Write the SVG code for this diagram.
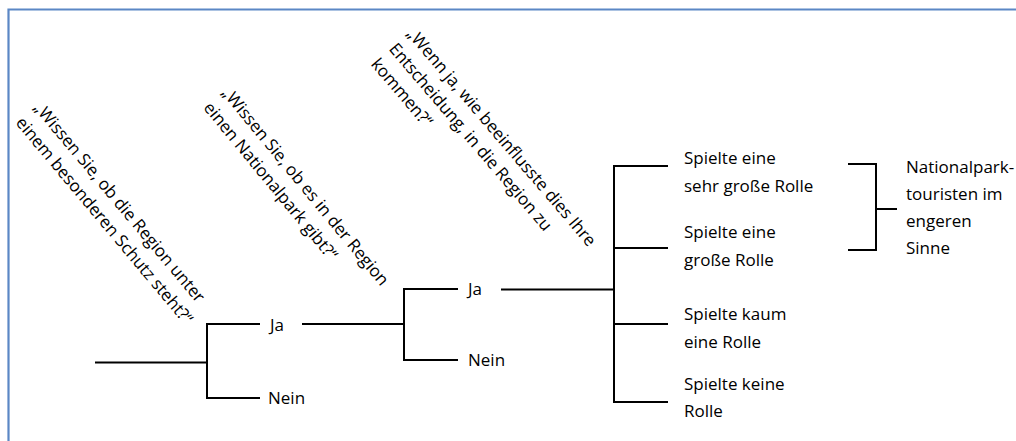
<svg xmlns="http://www.w3.org/2000/svg" width="1016" height="441" viewBox="0 0 1016 441">
<style>
.t{font-family:"Open Sans","Liberation Sans",sans-serif;font-size:17px;fill:#000}
.c{stroke:#000;stroke-width:2;fill:none}
</style>
<rect width="1016" height="441" fill="#fff"/>
<path d="M8.5 460 V9.5 H1030" fill="none" stroke="#5b87c5" stroke-width="2.2"/>
<g id="q1" class="t" transform="translate(33,108) rotate(50)"><text x="0" y="0">„Wissen Sie, ob die Region unter</text><text x="0" y="23.5">einem besonderen Schutz steht?“</text></g>
<g id="q2" class="t" transform="translate(221,93) rotate(50.5)"><text x="0" y="0">„Wissen Sie, ob es in der Region</text><text x="0" y="23.5">einen Nationalpark gibt?“</text></g>
<g id="q3" class="t" transform="translate(406,34) rotate(49.5)"><text x="0" y="0">„Wenn ja, wie beeinflusste dies Ihre</text><text x="0" y="23.5">Entscheidung, in die Region zu</text><text x="0" y="47">kommen?“</text></g>
<g id="connectors" class="c">
<path d="M95 362.5 H207"/>
<path d="M260 324 H207 V398 H260"/>
<path d="M302 324 H404"/>
<path d="M458 289 H404 V360 H458"/>
<path d="M501 289.5 H614"/>
<path d="M668 166 H614 V402 H668"/>
<path d="M614 248 H668"/>
<path d="M614 324 H668"/>
<path d="M848 164 H876 V250 H848"/>
<path d="M876 209 H897"/>
</g>
<g id="n-ja1" class="t"><text x="270" y="331">Ja</text></g>
<g id="n-nein1" class="t"><text x="268" y="404">Nein</text></g>
<g id="n-ja2" class="t"><text x="468" y="295">Ja</text></g>
<g id="n-nein2" class="t"><text x="468" y="366">Nein</text></g>
<g id="n-sehr" class="t"><text x="684" y="164">Spielte eine</text><text x="684" y="192">sehr große Rolle</text></g>
<g id="n-gross" class="t"><text x="684" y="238">Spielte eine</text><text x="684" y="266">große Rolle</text></g>
<g id="n-kaum" class="t"><text x="684" y="320">Spielte kaum</text><text x="684" y="348">eine Rolle</text></g>
<g id="n-keine" class="t"><text x="684" y="390">Spielte keine</text><text x="684" y="417">Rolle</text></g>
<g id="n-np" class="t"><text x="906" y="173">Nationalpark-</text><text x="906" y="200">touristen im</text><text x="906" y="227">engeren</text><text x="906" y="254">Sinne</text></g>
</svg>
